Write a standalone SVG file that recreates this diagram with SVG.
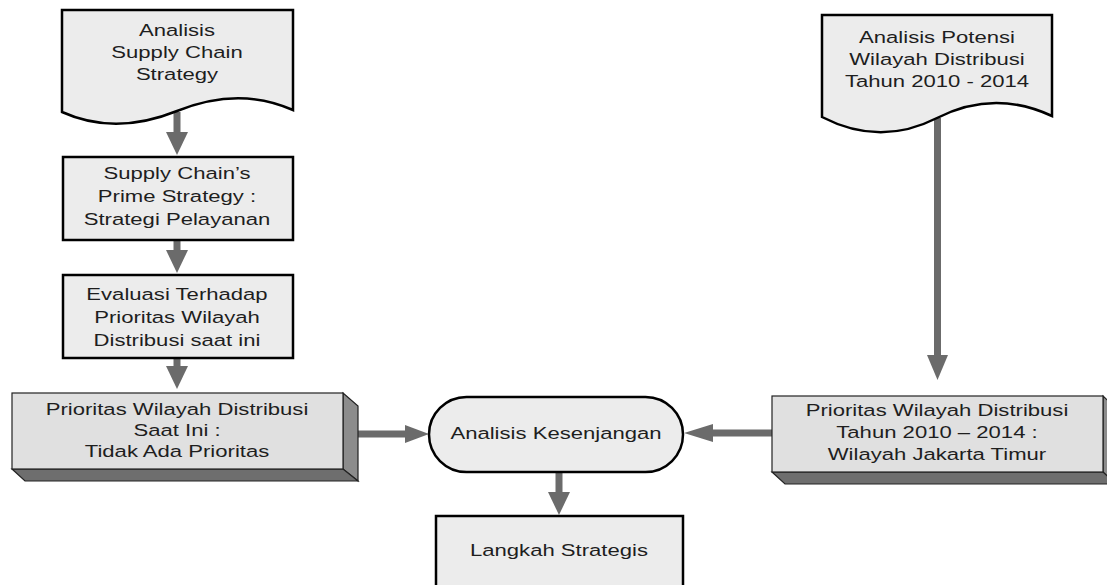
<svg xmlns="http://www.w3.org/2000/svg" width="1107" height="585" viewBox="0 0 1107 585">
<style>
.sh{fill:#ececec;stroke:#000;stroke-width:2.5}
.f3{fill:#e0e0e0;stroke:#222;stroke-width:1.2}
.r3{fill:#8c8c8c;stroke:#222;stroke-width:1.2}
.b3{fill:#6e6e6e;stroke:#222;stroke-width:1.2}
.t{font-family:"Liberation Sans",Arial,sans-serif;font-size:17px;fill:#1e1e1e;text-anchor:middle}
.ln{stroke:#6b6b6b;stroke-width:7;fill:none}
.hd{fill:#6b6b6b}
</style>
<rect width="1107" height="585" fill="#fff"/>
<g id="connectors">
<line class="ln" x1="177" y1="112" x2="177" y2="134"/>
<polygon class="hd" points="166,132 188,132 177,155"/>
<line class="ln" x1="177" y1="240" x2="177" y2="252"/>
<polygon class="hd" points="166,250 188,250 177,273"/>
<line class="ln" x1="177" y1="358" x2="177" y2="368"/>
<polygon class="hd" points="166,366 188,366 177,389"/>
<line class="ln" x1="937.5" y1="118" x2="937.5" y2="358"/>
<polygon class="hd" points="927,355 948,355 937.5,380"/>
<line class="ln" x1="358" y1="434" x2="407" y2="434"/>
<polygon class="hd" points="405,425 405,443 429,434"/>
<line class="ln" x1="772" y1="433" x2="711" y2="433"/>
<polygon class="hd" points="713,424 713,442 684,433"/>
<line class="ln" x1="559" y1="472" x2="559" y2="494"/>
<polygon class="hd" points="548,492 570,492 559,515"/>
</g>
<g id="doc1">
<path class="sh" d="M62,10 H293 V110 Q239,86 177,111 Q115,136 62,112 Z"/>
<text class="t" transform="translate(177,36) scale(1.3,1)">Analisis</text>
<text class="t" transform="translate(177,58) scale(1.3,1)">Supply Chain</text>
<text class="t" transform="translate(177,80) scale(1.3,1)">Strategy</text>
</g>
<g id="box2">
<rect class="sh" x="63" y="157" width="230" height="83"/>
<text class="t" transform="translate(177,179) scale(1.3,1)">Supply Chain’s</text>
<text class="t" transform="translate(177,202) scale(1.3,1)">Prime Strategy :</text>
<text class="t" transform="translate(177,225) scale(1.3,1)">Strategi Pelayanan</text>
</g>
<g id="box3">
<rect class="sh" x="63" y="275" width="230" height="83"/>
<text class="t" transform="translate(177,300) scale(1.3,1)">Evaluasi Terhadap</text>
<text class="t" transform="translate(177,323) scale(1.3,1)">Prioritas Wilayah</text>
<text class="t" transform="translate(177,346) scale(1.3,1)">Distribusi saat ini</text>
</g>
<g id="box4">
<polygon class="r3" points="343,393 358,406 358,481 343,469"/>
<polygon class="b3" points="12,469 343,469 358,481 25,481"/>
<rect class="f3" x="12" y="393" width="331" height="76"/>
<text class="t" transform="translate(177,415) scale(1.3,1)">Prioritas Wilayah Distribusi</text>
<text class="t" transform="translate(177,436) scale(1.3,1)">Saat Ini :</text>
<text class="t" transform="translate(177,457) scale(1.3,1)">Tidak Ada Prioritas</text>
</g>
<g id="doc5">
<path class="sh" d="M822,15 H1052 V116 Q994,89 937,118 Q880,147 822,117 Z"/>
<text class="t" transform="translate(937,43) scale(1.3,1)">Analisis Potensi</text>
<text class="t" transform="translate(937,65) scale(1.3,1)">Wilayah Distribusi</text>
<text class="t" transform="translate(937,87) scale(1.3,1)">Tahun 2010 - 2014</text>
</g>
<g id="box6">
<polygon class="r3" points="1103,396 1116,408 1116,484 1103,472"/>
<polygon class="b3" points="772,472 1103,472 1116,484 785,484"/>
<rect class="f3" x="772" y="396" width="331" height="76"/>
<text class="t" transform="translate(937,416) scale(1.3,1)">Prioritas Wilayah Distribusi</text>
<text class="t" transform="translate(937,438) scale(1.3,1)">Tahun 2010 – 2014 :</text>
<text class="t" transform="translate(937,460) scale(1.3,1)">Wilayah Jakarta Timur</text>
</g>
<g id="term">
<rect class="sh" x="429" y="397" width="254" height="75" rx="37.5" ry="37.5"/>
<text class="t" transform="translate(556,439) scale(1.3,1)">Analisis Kesenjangan</text>
</g>
<g id="box8">
<rect class="sh" x="436" y="516" width="247" height="80"/>
<text class="t" transform="translate(559,556) scale(1.3,1)">Langkah Strategis</text>
</g>
</svg>
